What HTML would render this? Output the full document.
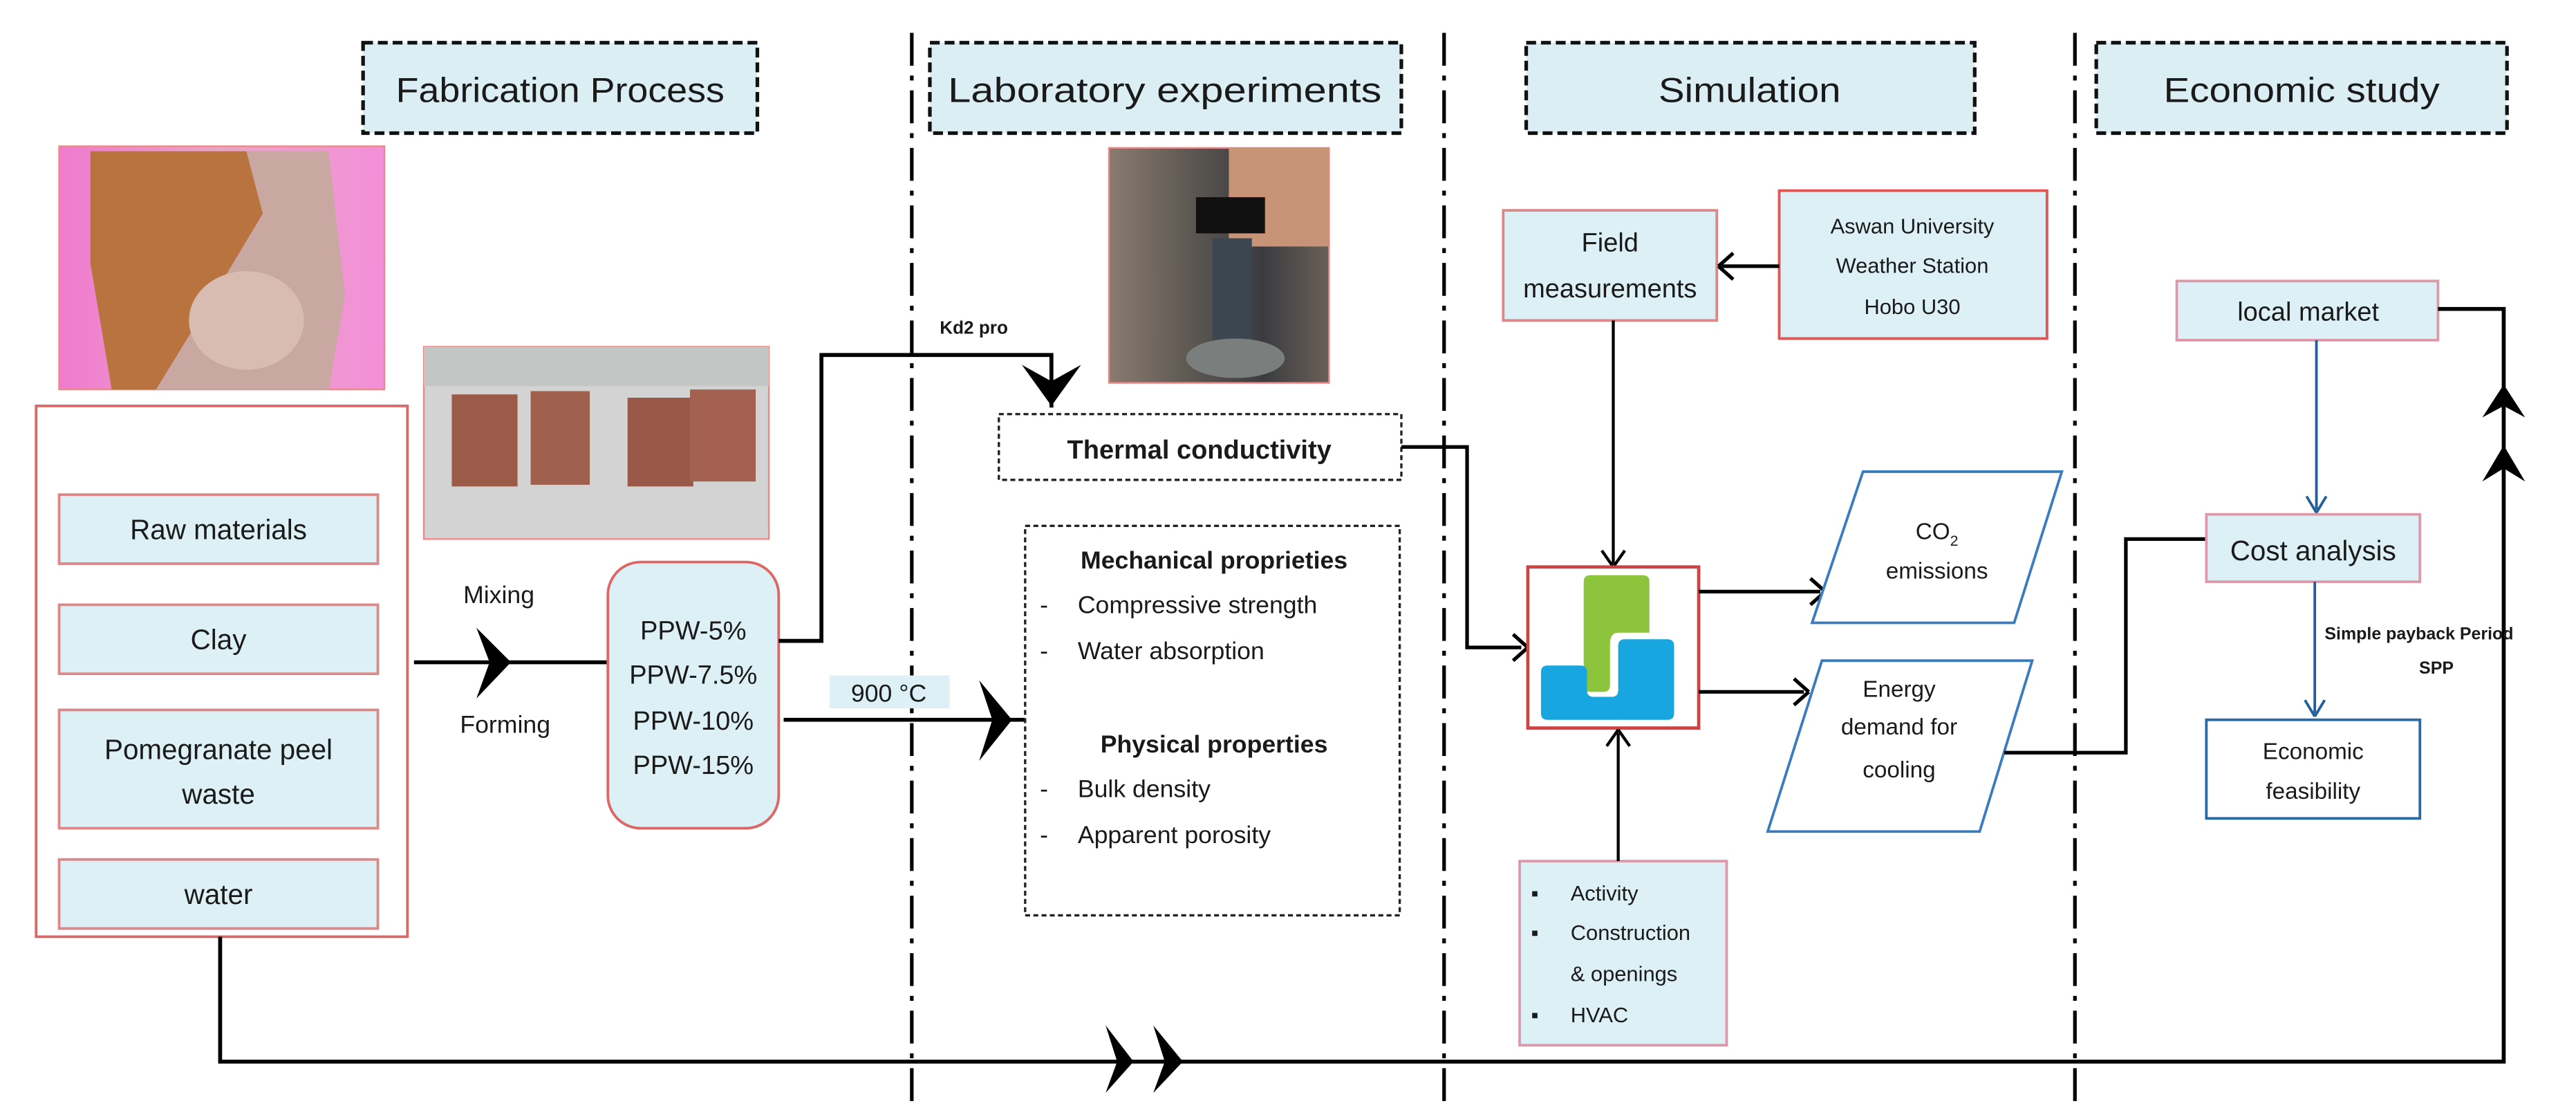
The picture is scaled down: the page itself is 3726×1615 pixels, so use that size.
<!DOCTYPE html>
<html><head><meta charset="utf-8"><style>
html,body{margin:0;padding:0;background:#fff;}
svg{display:block;}
text{font-family:"Liberation Sans",sans-serif;fill:#1a1a1a;}
</style></head><body>
<svg width="3726" height="1615" viewBox="0 0 1568 679.7" preserveAspectRatio="none" xmlns="http://www.w3.org/2000/svg">
<defs>
<linearGradient id="pk" x1="0" x2="1"><stop offset="0" stop-color="#f07ad0"/><stop offset="0.5" stop-color="#e8a6c8"/><stop offset="1" stop-color="#f38fd8"/></linearGradient>
<linearGradient id="lab" x1="0" x2="1"><stop offset="0" stop-color="#8a7b70"/><stop offset="0.4" stop-color="#5a5550"/><stop offset="0.7" stop-color="#3a3c40"/><stop offset="1" stop-color="#6a6058"/></linearGradient>
</defs>
<g stroke="#000" stroke-width="2.2" stroke-dasharray="20 6 3 6" fill="none">
<line x1="555" y1="20" x2="555" y2="672"/>
<line x1="879" y1="20" x2="879" y2="672"/>
<line x1="1263" y1="20" x2="1263" y2="672"/>
</g>
<g fill="#dbeef4" stroke="#111" stroke-width="2.2" stroke-dasharray="6 3">
<rect x="221" y="26" width="240" height="55"/>
<rect x="566" y="26" width="287" height="55"/>
<rect x="929" y="26" width="273" height="55"/>
<rect x="1276" y="26" width="250" height="55"/>
</g>
<g font-size="21" text-anchor="middle">
<text x="341" y="62" textLength="200" lengthAdjust="spacingAndGlyphs">Fabrication Process</text>
<text x="709" y="62" textLength="264" lengthAdjust="spacingAndGlyphs">Laboratory experiments</text>
<text x="1065" y="62" textLength="111" lengthAdjust="spacingAndGlyphs">Simulation</text>
<text x="1401" y="62" textLength="168" lengthAdjust="spacingAndGlyphs">Economic study</text>
</g>
<!-- photo 1 -->
<rect x="36" y="89" width="198" height="148" fill="url(#pk)" stroke="#e88" stroke-width="1"/>
<path d="M55 92 L150 92 L160 130 L130 180 L95 237 L68 237 L55 160 Z" fill="#b8733e"/>
<path d="M150 92 L200 92 L210 180 L200 237 L95 237 L130 180 L160 130 Z" fill="#c8a8a0"/>
<ellipse cx="150" cy="195" rx="35" ry="30" fill="#d8bcb2"/>
<!-- photo 2 -->
<rect x="258" y="211" width="210" height="117" fill="#d2d3d2" stroke="#e88" stroke-width="1"/>
<rect x="258" y="211" width="210" height="24" fill="#c4c6c6"/>
<rect x="275" y="240" width="40" height="56" fill="#9c5a48"/>
<rect x="323" y="238" width="36" height="57" fill="#a06050"/>
<rect x="382" y="242" width="40" height="54" fill="#9a5848"/>
<rect x="420" y="237" width="40" height="56" fill="#a5614f"/>
<!-- photo 3 -->
<rect x="675" y="90" width="134" height="143" fill="url(#lab)" stroke="#e88" stroke-width="1"/>
<rect x="748" y="90" width="61" height="60" fill="#c89478"/>
<rect x="728" y="120" width="42" height="22" fill="#111"/>
<rect x="738" y="145" width="24" height="70" fill="#3c4650"/>
<ellipse cx="752" cy="218" rx="30" ry="12" fill="#7a7e7c"/>
<!-- left group -->
<rect x="22" y="247" width="226" height="323" fill="#fff" stroke="#d66" stroke-width="1.6"/>
<g fill="#dcf0f5" stroke="#d88" stroke-width="1.6">
<rect x="36" y="301" width="194" height="42"/>
<rect x="36" y="368" width="194" height="42"/>
<rect x="36" y="432" width="194" height="72"/>
<rect x="36" y="523" width="194" height="42"/>
</g>
<g font-size="17" text-anchor="middle">
<text x="133" y="328">Raw materials</text>
<text x="133" y="395">Clay</text>
<text x="133" y="462">Pomegranate peel</text>
<text x="133" y="489">waste</text>
<text x="133" y="550">water</text>
</g>
<!-- mixing arrow -->
<line x1="252" y1="403" x2="370" y2="403" stroke="#000" stroke-width="2.4"/>
<path d="M311 403 L290 382 L298 403 L290 425 Z" fill="#000"/>
<text x="282" y="367" font-size="15">Mixing</text>
<text x="280" y="446" font-size="15">Forming</text>
<rect x="370" y="342" width="104" height="162" rx="20" fill="#dcf0f5" stroke="#d66" stroke-width="1.6"/>
<g font-size="16" text-anchor="middle">
<text x="422" y="389">PPW-5%</text>
<text x="422" y="416">PPW-7.5%</text>
<text x="422" y="444">PPW-10%</text>
<text x="422" y="471">PPW-15%</text>
</g>
<!-- to thermal -->
<polyline points="474,390 500,390 500,216 640,216 640,248" fill="none" stroke="#000" stroke-width="2.4"/>
<path d="M640 247 L622 222 L640 232 L658 222 Z" fill="#000"/>
<text x="572" y="203" font-size="11" font-weight="bold">Kd2 pro</text>
<rect x="608" y="252" width="245" height="40" fill="#fff" stroke="#222" stroke-width="1.4" stroke-dasharray="3 2"/>
<text x="730" y="279" font-size="16" font-weight="bold" text-anchor="middle">Thermal conductivity</text>
<!-- 900 arrow -->
<line x1="477" y1="438" x2="624" y2="438" stroke="#000" stroke-width="2.4"/>
<rect x="505" y="411" width="73" height="20" fill="#dcf0f5"/>
<text x="541" y="427" font-size="15" text-anchor="middle" font-family="Liberation Serif">900 °C</text>
<path d="M616 438 L596 414 L604 438 L596 463 Z" fill="#000"/>
<rect x="624" y="320" width="228" height="237" fill="#fff" stroke="#222" stroke-width="1.4" stroke-dasharray="3 2"/>
<g font-size="15">
<text x="739" y="346" font-weight="bold" text-anchor="middle">Mechanical proprieties</text>
<text x="633" y="373">-</text><text x="656" y="373">Compressive strength</text>
<text x="633" y="401">-</text><text x="656" y="401">Water absorption</text>
<text x="739" y="458" font-weight="bold" text-anchor="middle">Physical properties</text>
<text x="633" y="485">-</text><text x="656" y="485">Bulk density</text>
<text x="633" y="513">-</text><text x="656" y="513">Apparent porosity</text>
</g>
<!-- simulation -->
<polyline points="853,272 893,272 893,394 926,394" fill="none" stroke="#000" stroke-width="2.2"/>
<path d="M930 394 L921 386 M930 394 L921 402" stroke="#000" stroke-width="2.2"/>
<rect x="915" y="128" width="130" height="67" fill="#dcf0f5" stroke="#d88" stroke-width="1.6"/>
<text x="980" y="153" font-size="16" text-anchor="middle">Field</text>
<text x="980" y="181" font-size="16" text-anchor="middle">measurements</text>
<rect x="1083" y="116" width="163" height="90" fill="#dcf0f5" stroke="#d55" stroke-width="1.6"/>
<g font-size="13" text-anchor="middle">
<text x="1164" y="142">Aswan University</text>
<text x="1164" y="166">Weather Station</text>
<text x="1164" y="191">Hobo U30</text>
</g>
<line x1="1083" y1="162" x2="1048" y2="162" stroke="#000" stroke-width="2.2"/>
<path d="M1046 162 L1055 154 M1046 162 L1055 170" stroke="#000" stroke-width="2.2"/>
<line x1="982" y1="195" x2="982" y2="343" stroke="#000" stroke-width="1.8"/>
<path d="M982 345 L975 335 M982 345 L989 335" stroke="#000" stroke-width="1.8"/>
<rect x="930" y="345" width="104" height="98" fill="#fff" stroke="#c44" stroke-width="2"/>
<path d="M968 350 H1000 Q1004 350 1004 354 V385 H985 Q980 385 980 392 V417 Q980 421 976 421 H968 Q964 421 964 417 V354 Q964 350 968 350 Z" fill="#8cc43c"/>
<path d="M989 389 H1015 Q1019 389 1019 393 V434 Q1019 438 1015 438 H942 Q938 438 938 434 V409 Q938 405 942 405 H962 Q966 405 966 409 V420 Q966 424 970 424 H981 Q985 424 985 420 V393 Q985 389 989 389 Z" fill="#17a6e0"/>
<line x1="1034" y1="360" x2="1108" y2="360" stroke="#000" stroke-width="2.2"/>
<path d="M1111 360 L1102 352 M1111 360 L1102 368" stroke="#000" stroke-width="2.2"/>
<line x1="1034" y1="421" x2="1098" y2="421" stroke="#000" stroke-width="2.2"/>
<path d="M1101 421 L1092 413 M1101 421 L1092 429" stroke="#000" stroke-width="2.2"/>
<polygon points="1134,287 1255,287 1226,379 1103,379" fill="#fff" stroke="#3a7cc0" stroke-width="1.6"/>
<text x="1179" y="328" font-size="14" text-anchor="middle">CO<tspan font-size="9" dy="4">2</tspan></text>
<text x="1179" y="352" font-size="14" text-anchor="middle">emissions</text>
<polygon points="1109,402 1237,402 1205,506 1076,506" fill="#fff" stroke="#3a7cc0" stroke-width="1.6"/>
<g font-size="14" text-anchor="middle">
<text x="1156" y="424">Energy</text>
<text x="1156" y="447">demand for</text>
<text x="1156" y="473">cooling</text>
</g>
<rect x="925" y="524" width="126" height="112" fill="#dcf0f5" stroke="#d9a" stroke-width="1.6"/>
<g font-size="13">
<text x="932" y="548">▪</text><text x="956" y="548">Activity</text>
<text x="932" y="572">▪</text><text x="956" y="572">Construction</text>
<text x="956" y="597">&amp; openings</text>
<text x="932" y="622">▪</text><text x="956" y="622">HVAC</text>
</g>
<line x1="985" y1="524" x2="985" y2="446" stroke="#000" stroke-width="1.8"/>
<path d="M985 444 L978 454 M985 444 L992 454" stroke="#000" stroke-width="1.8"/>
<!-- economic -->
<polyline points="1220,458 1294,458 1294,328 1343,328" fill="none" stroke="#000" stroke-width="2.2"/>
<rect x="1325" y="171" width="159" height="36" fill="#dcf0f5" stroke="#d9a" stroke-width="1.6"/>
<text x="1405" y="195" font-size="16" text-anchor="middle">local market</text>
<polyline points="1484,188 1524,188 1524,646 134,646 134,570" fill="none" stroke="#000" stroke-width="2.4"/>
<path d="M1524 234 L1511 254 L1524 247 L1537 254 Z" fill="#000"/>
<path d="M1524 271 L1511 293 L1524 285 L1537 293 Z" fill="#000"/>
<path d="M690 646 L673 624 L680 646 L673 665 Z" fill="#000"/>
<path d="M720 646 L702 624 L709 646 L702 665 Z" fill="#000"/>
<line x1="1410" y1="207" x2="1410" y2="310" stroke="#1f5f9a" stroke-width="1.6"/>
<path d="M1410 312 L1404 302 M1410 312 L1416 302" stroke="#1f5f9a" stroke-width="1.6"/>
<rect x="1343" y="313" width="130" height="41" fill="#dcf0f5" stroke="#d9a" stroke-width="1.6"/>
<text x="1408" y="341" font-size="17" text-anchor="middle">Cost analysis</text>
<line x1="1409" y1="354" x2="1409" y2="434" stroke="#1f5f9a" stroke-width="1.6"/>
<path d="M1409 436 L1403 426 M1409 436 L1415 426" stroke="#1f5f9a" stroke-width="1.6"/>
<text x="1415" y="389" font-size="10.5" font-weight="bold">Simple payback Period</text>
<text x="1483" y="410" font-size="10.5" font-weight="bold" text-anchor="middle">SPP</text>
<rect x="1343" y="438" width="130" height="60" fill="#fff" stroke="#2a6aa8" stroke-width="1.6"/>
<text x="1408" y="462" font-size="14" text-anchor="middle">Economic</text>
<text x="1408" y="486" font-size="14" text-anchor="middle">feasibility</text>
</svg>
</body></html>
